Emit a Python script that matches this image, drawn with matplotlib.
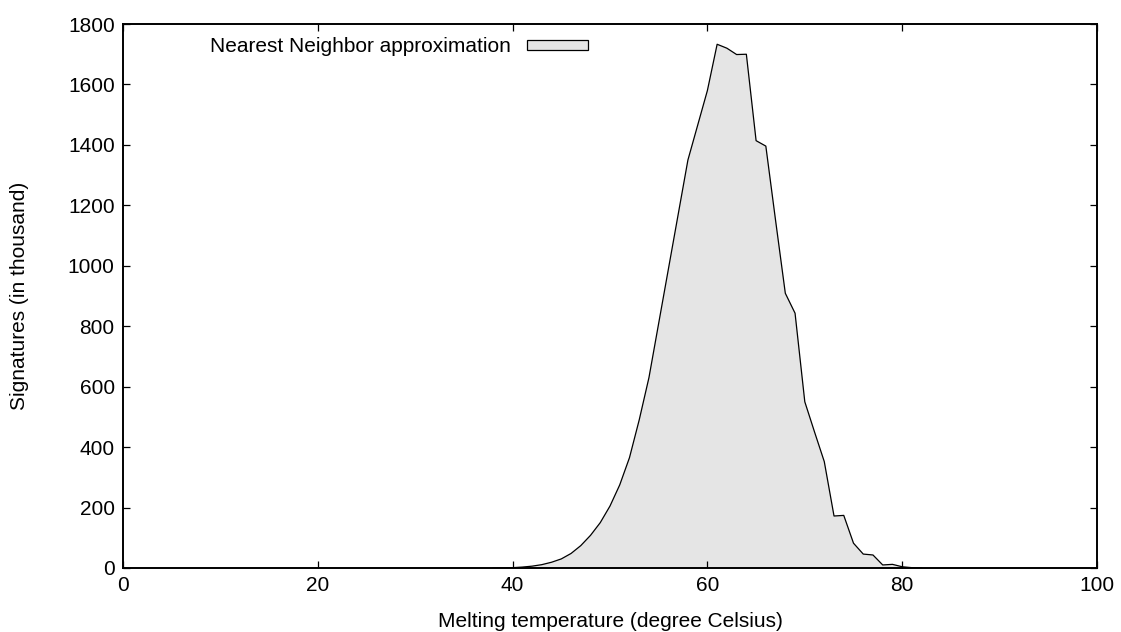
import numpy as np
import matplotlib.pyplot as plt
from matplotlib.patches import Patch

plt.rcParams['font.family'] = ['Liberation Sans', 'DejaVu Sans']
plt.rcParams['font.size'] = 15

# melting temperature (deg C) and signature counts (thousands)
temp = [38, 39, 40, 41, 42, 43, 44, 45, 46, 47, 48, 49, 50, 51, 52, 53, 54, 55,
        56, 57, 58, 59, 60, 61, 62, 63, 64, 65, 66, 67, 68, 69, 70, 71, 72, 73,
        74, 75, 76, 77, 78, 79, 80, 81, 82]
signatures = [0, 0.5, 1, 3, 6, 11, 19, 30, 48, 74, 108, 150, 205, 275, 365, 490,
              630, 810, 990, 1170, 1350, 1465, 1580, 1733, 1720, 1699, 1700, 1414,
              1396, 1150, 909, 843, 550, 450, 352, 172, 174, 82, 46, 43, 10, 12,
              4, 1, 0]

fig = plt.figure(figsize=(11.21, 6.32), dpi=100)
ax = fig.add_axes([0.1097, 0.1013, 0.9786 - 0.1097, 0.962 - 0.1013])

ax.fill_between(temp, signatures, 0, facecolor='#e5e5e5', edgecolor='none')
ax.plot(temp, signatures, color='black', linewidth=0.9)

ax.set_xlim(0, 100)
ax.set_ylim(0, 1800)
ax.set_xticks(np.arange(0, 101, 20))
ax.set_yticks(np.arange(0, 1801, 200))
ax.tick_params(direction='in', length=5, width=0.9, top=True, right=True, pad=6)
for s in ax.spines.values():
    s.set_linewidth(1.4)

ax.set_xlabel('Melting temperature (degree Celsius)', labelpad=12)
ax.set_ylabel('Signatures (in thousand)', labelpad=28)

handle = Patch(facecolor='#e5e5e5', edgecolor='black', linewidth=0.9)
ax.legend([handle], ['Nearest Neighbor approximation'], loc='upper left',
          bbox_to_anchor=(0.070, 1.010), frameon=False, markerfirst=False,
          handlelength=2.9, handleheight=0.4, handletextpad=0.8)

fig.savefig('out.png', dpi=100)
